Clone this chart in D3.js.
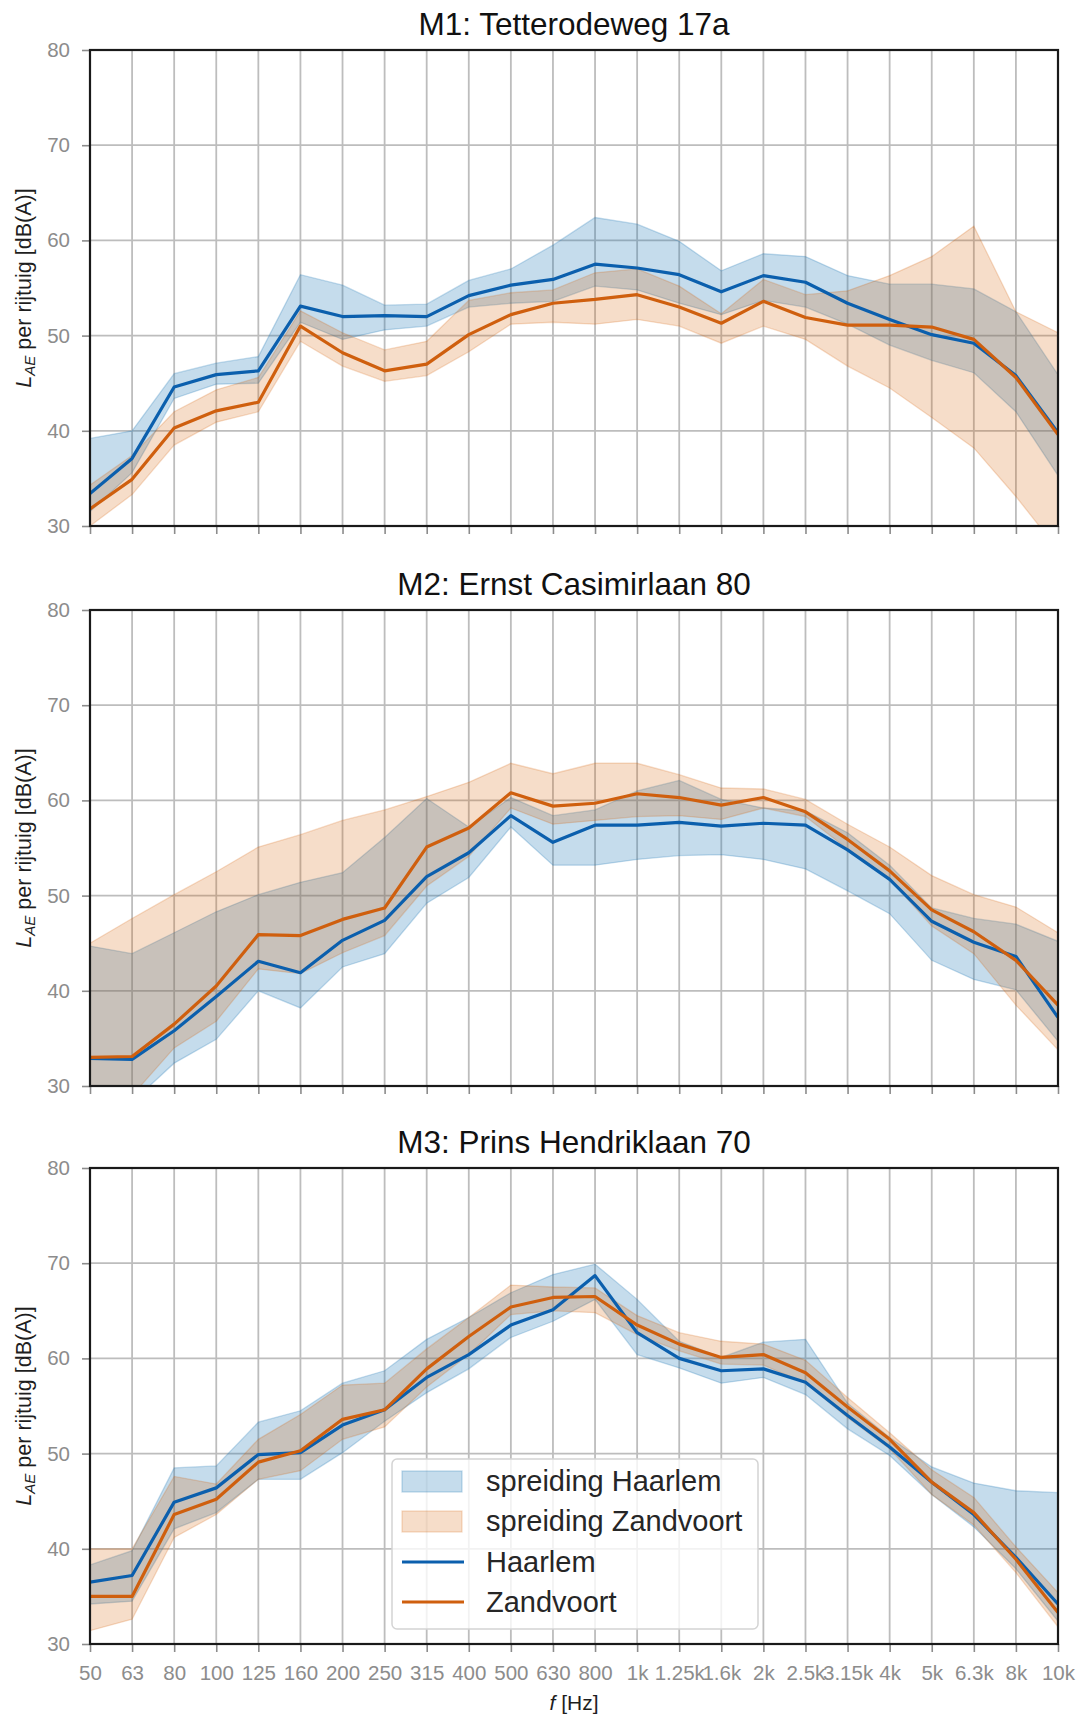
<!DOCTYPE html>
<html>
<head>
<meta charset="utf-8">
<script src="https://cdn.jsdelivr.net/npm/d3@7"></script>
<style>
  body { margin: 0; background: #fff; }
  svg { display: block; font-family: "Liberation Sans", Arial, sans-serif; }
</style>
</head>
<body>
<svg id="chart" width="1082" height="1720"></svg>
<script>
// Third-octave band centre frequencies (categorical x axis)
const freqLabels = ["50","63","80","100","125","160","200","250","315","400","500","630",
                    "800","1k","1.25k","1.6k","2k","2.5k","3.15k","4k","5k","6.3k","8k","10k"];
const yTickValues = [30, 40, 50, 60, 70, 80];
const panelTitles = ["M1: Tetterodeweg 17a", "M2: Ernst Casimirlaan 80", "M3: Prins Hendriklaan 70"];
const legendLabels = ["spreiding Haarlem", "spreiding Zandvoort", "Haarlem", "Zandvoort"];

// M1 — mean level and spread per band, dB(A)
const m1HaarlemMean = [33.4,37.1,44.6,45.9,46.3,53.1,52.0,52.1,52.0,54.2,55.3,55.9,57.5,57.1,56.4,54.6,56.3,55.6,53.4,51.7,50.1,49.2,45.8,39.8];
const m1HaarlemLow  = [31.5,35.6,43.4,44.9,45.0,51.4,49.6,50.6,51.0,53.0,53.4,53.6,55.2,54.8,53.4,52.2,53.7,53.0,51.2,49.0,47.4,46.1,42.0,35.3];
const m1HaarlemHigh = [39.2,40.0,46.0,47.1,47.8,56.4,55.3,53.2,53.3,55.8,57.0,59.5,62.4,61.7,59.9,56.8,58.6,58.3,56.3,55.4,55.4,54.9,52.5,45.9];
const m1ZandvoortMean = [31.8,34.9,40.3,42.1,43.0,51.0,48.2,46.3,47.0,50.1,52.2,53.4,53.8,54.3,53.0,51.3,53.6,51.9,51.1,51.1,50.9,49.6,45.6,39.6];
const m1ZandvoortLow  = [30.0,33.3,38.5,40.9,42.0,49.4,46.8,45.2,45.8,48.3,51.2,51.4,51.2,51.7,51.0,49.2,51.0,49.6,46.8,44.5,41.4,38.2,33.1,27.5];
const m1ZandvoortHigh = [34.3,37.4,42.0,44.3,45.6,52.6,50.3,48.5,49.4,53.7,54.5,54.8,56.6,57.0,55.2,52.3,55.9,54.3,54.7,56.3,58.3,61.5,52.5,50.3];

// M2
const m2HaarlemMean = [32.9,32.8,35.8,39.4,43.1,41.9,45.3,47.4,52.0,54.5,58.4,55.6,57.4,57.4,57.7,57.3,57.6,57.4,54.8,51.7,47.3,45.1,43.6,37.2];
const m2HaarlemLow  = [27.0,28.3,32.4,34.9,40.0,38.2,42.5,43.9,49.2,51.9,57.2,53.2,53.2,53.8,54.2,54.3,53.8,52.8,50.5,48.1,43.2,41.2,40.1,34.7];
const m2HaarlemHigh = [44.7,43.9,46.1,48.3,50.1,51.4,52.4,56.1,60.2,57.2,60.3,58.4,59.0,61.0,62.1,60.1,59.2,58.9,56.6,53.2,48.7,47.6,47.0,45.2];
const m2ZandvoortMean = [33.0,33.1,36.5,40.5,45.9,45.8,47.5,48.7,55.1,57.1,60.8,59.4,59.7,60.7,60.3,59.5,60.3,58.8,55.9,52.6,48.5,46.2,43.2,38.5];
const m2ZandvoortLow  = [28.5,29.0,34.0,36.8,42.3,41.8,44.0,45.8,51.0,54.1,59.2,57.5,57.9,58.3,58.4,58.0,59.2,58.3,54.9,51.7,46.8,43.9,38.5,33.8];
const m2ZandvoortHigh = [45.0,47.6,50.1,52.5,55.1,56.4,57.9,59.0,60.4,61.9,63.9,62.8,63.9,63.9,62.7,61.3,61.2,60.1,57.5,55.1,52.1,50.1,48.8,46.1];

// M3
const m3HaarlemMean = [36.5,37.2,44.9,46.4,49.9,50.1,53.0,54.6,58.0,60.4,63.5,65.1,68.7,62.7,60.0,58.7,58.9,57.5,54.0,50.7,47.0,43.6,39.1,34.2];
const m3HaarlemLow  = [34.2,34.5,42.1,43.8,47.3,47.3,50.1,53.4,56.4,58.9,62.2,63.9,66.2,60.4,59.0,57.4,58.0,56.2,52.6,49.8,45.7,42.3,37.9,32.4];
const m3HaarlemHigh = [38.3,39.8,48.5,48.7,53.3,54.5,57.4,58.7,62.0,64.3,66.9,68.8,69.9,66.2,61.8,60.1,61.7,62.0,55.3,51.7,48.6,46.9,46.1,45.9];
const m3ZandvoortMean = [35.0,35.0,43.6,45.2,49.1,50.3,53.6,54.6,58.9,62.3,65.4,66.4,66.5,63.5,61.5,60.1,60.4,58.5,54.9,51.5,47.0,43.8,38.9,33.3];
const m3ZandvoortLow  = [31.4,32.6,41.2,43.6,47.3,48.2,51.5,52.8,57.0,60.4,64.6,65.0,64.8,62.5,60.8,59.4,59.3,57.4,53.8,50.5,45.7,42.5,37.5,31.8];
const m3ZandvoortHigh = [40.0,40.0,47.6,46.8,51.5,54.1,57.2,57.4,61.0,64.3,67.7,67.5,67.4,64.5,62.7,61.8,61.5,59.8,55.9,52.2,48.3,45.4,40.2,35.4];

const panels = [
  { title: panelTitles[0], hMean: m1HaarlemMean, hLow: m1HaarlemLow, hHigh: m1HaarlemHigh,
    zMean: m1ZandvoortMean, zLow: m1ZandvoortLow, zHigh: m1ZandvoortHigh },
  { title: panelTitles[1], hMean: m2HaarlemMean, hLow: m2HaarlemLow, hHigh: m2HaarlemHigh,
    zMean: m2ZandvoortMean, zLow: m2ZandvoortLow, zHigh: m2ZandvoortHigh },
  { title: panelTitles[2], hMean: m3HaarlemMean, hLow: m3HaarlemLow, hHigh: m3HaarlemHigh,
    zMean: m3ZandvoortMean, zLow: m3ZandvoortLow, zHigh: m3ZandvoortHigh }
];

// Styling
const haarlemLine = "#0b5fad";
const zandvoortLine = "#cf5f0e";
const haarlemFill = "#1f77b4";
const zandvoortFill = "#d55e00";
const haarlemAlpha = 0.26;
const zandvoortAlpha = 0.21;
const gridColor = "#bdbdbd";
const tickColor = "#8c8c8c";

const plotLeft = 90, plotRight = 1058;
const panelTops = [50, 610, 1168];
const panelHeight = 476;

const svg = d3.select("#chart");

const x = d3.scalePoint().domain(freqLabels).range([plotLeft, plotRight]);

panels.forEach((p, i) => {
  const top = panelTops[i];
  const bottom = top + panelHeight;
  const y = d3.scaleLinear().domain([30, 80]).range([bottom, top]);
  const g = svg.append("g");

  const clipId = "clip" + i;
  svg.append("defs").append("clipPath").attr("id", clipId)
    .append("rect").attr("x", plotLeft).attr("y", top)
    .attr("width", plotRight - plotLeft).attr("height", panelHeight);

  // grid
  const grid = g.append("g");
  grid.selectAll("line.vx").data(freqLabels).join("line")
    .attr("x1", d => x(d)).attr("x2", d => x(d))
    .attr("y1", top).attr("y2", bottom)
    .attr("stroke", gridColor).attr("stroke-width", 1.8);
  grid.selectAll("line.hy").data(yTickValues).join("line")
    .attr("x1", plotLeft).attr("x2", plotRight)
    .attr("y1", d => y(d)).attr("y2", d => y(d))
    .attr("stroke", gridColor).attr("stroke-width", 1.8);

  const data = freqLabels.map((f, k) => ({
    f, hMean: p.hMean[k], hLow: p.hLow[k], hHigh: p.hHigh[k],
    zMean: p.zMean[k], zLow: p.zLow[k], zHigh: p.zHigh[k]
  }));

  const marks = g.append("g").attr("clip-path", `url(#${clipId})`);

  const areaH = d3.area().x(d => x(d.f)).y0(d => y(d.hLow)).y1(d => y(d.hHigh));
  const areaZ = d3.area().x(d => x(d.f)).y0(d => y(d.zLow)).y1(d => y(d.zHigh));
  marks.append("path").datum(data).attr("d", areaH)
    .attr("fill", haarlemFill).attr("fill-opacity", haarlemAlpha)
    .attr("stroke", haarlemFill).attr("stroke-opacity", haarlemAlpha).attr("stroke-width", 1.3);
  marks.append("path").datum(data).attr("d", areaZ)
    .attr("fill", zandvoortFill).attr("fill-opacity", zandvoortAlpha)
    .attr("stroke", zandvoortFill).attr("stroke-opacity", zandvoortAlpha).attr("stroke-width", 1.3);

  const lineH = d3.line().x(d => x(d.f)).y(d => y(d.hMean));
  const lineZ = d3.line().x(d => x(d.f)).y(d => y(d.zMean));
  marks.append("path").datum(data).attr("d", lineH)
    .attr("fill", "none").attr("stroke", haarlemLine).attr("stroke-width", 3.2)
    .attr("stroke-linejoin", "round");
  marks.append("path").datum(data).attr("d", lineZ)
    .attr("fill", "none").attr("stroke", zandvoortLine).attr("stroke-width", 3.2)
    .attr("stroke-linejoin", "round");

  // y axis
  const yAxis = g.append("g").attr("transform", `translate(${plotLeft},0)`)
    .call(d3.axisLeft(y).tickValues(yTickValues).tickSize(8).tickPadding(12));
  yAxis.select(".domain").remove();
  yAxis.selectAll(".tick line").attr("stroke", tickColor).attr("stroke-width", 1.6);
  yAxis.selectAll(".tick text").attr("fill", tickColor).attr("font-size", 20.5)
    .attr("font-family", "Liberation Sans, Arial, sans-serif");

  // x axis
  const isLast = i === panels.length - 1;
  const xAxis = g.append("g").attr("transform", `translate(0,${bottom})`)
    .call(d3.axisBottom(x).tickSize(8).tickPadding(13).tickFormat(isLast ? (d => d) : () => ""));
  xAxis.select(".domain").remove();
  xAxis.selectAll(".tick line").attr("stroke", tickColor).attr("stroke-width", 1.6);
  xAxis.selectAll(".tick text").attr("fill", tickColor).attr("font-size", 20.5)
    .attr("font-family", "Liberation Sans, Arial, sans-serif");

  // frame
  g.append("rect").attr("x", plotLeft).attr("y", top)
    .attr("width", plotRight - plotLeft).attr("height", panelHeight)
    .attr("fill", "none").attr("stroke", "#1a1a1a").attr("stroke-width", 2.2);

  // title
  g.append("text").attr("x", (plotLeft + plotRight) / 2).attr("y", top - 15)
    .attr("text-anchor", "middle").attr("font-size", 31.5).attr("fill", "#111")
    .text(p.title);

  // y label
  const yl = g.append("text")
    .attr("transform", `translate(31,${(top + bottom) / 2}) rotate(-90)`)
    .attr("text-anchor", "middle").attr("font-size", 21.5).attr("fill", "#1e1e1e");
  yl.append("tspan").attr("font-style", "italic").text("L");
  yl.append("tspan").attr("font-style", "italic").attr("font-size", 15).attr("dy", 4).text("AE");
  yl.append("tspan").attr("dy", -4).text(" per rijtuig [dB(A)]");

  if (isLast) {
    const xl = g.append("text").attr("x", (plotLeft + plotRight) / 2).attr("y", 1710)
      .attr("text-anchor", "middle").attr("font-size", 21).attr("fill", "#1e1e1e");
    xl.append("tspan").attr("font-style", "italic").text("f");
    xl.append("tspan").text(" [Hz]");

    // legend
    const lg = g.append("g");
    lg.append("rect").attr("x", 392).attr("y", 1459).attr("width", 366).attr("height", 170)
      .attr("rx", 5).attr("fill", "#fff").attr("fill-opacity", 0.8)
      .attr("stroke", "#d4d4d4").attr("stroke-width", 1.5);
    const rowY = [1481, 1521, 1562, 1602];
    const entries = [
      { type: "area", color: haarlemFill, alpha: haarlemAlpha },
      { type: "area", color: zandvoortFill, alpha: zandvoortAlpha },
      { type: "line", color: haarlemLine },
      { type: "line", color: zandvoortLine }
    ];
    entries.forEach((e, k) => {
      const cy = rowY[k];
      if (e.type === "area") {
        lg.append("rect").attr("x", 402).attr("y", cy - 10).attr("width", 60).attr("height", 21)
          .attr("fill", e.color).attr("fill-opacity", e.alpha)
          .attr("stroke", e.color).attr("stroke-opacity", e.alpha).attr("stroke-width", 1.3);
      } else {
        lg.append("line").attr("x1", 402).attr("x2", 464).attr("y1", cy).attr("y2", cy)
          .attr("stroke", e.color).attr("stroke-width", 3.2);
      }
      lg.append("text").attr("x", 486).attr("y", cy + 10).attr("font-size", 29)
        .attr("fill", "#262626").text(legendLabels[k]);
    });
  }
});
</script>
</body>
</html>
